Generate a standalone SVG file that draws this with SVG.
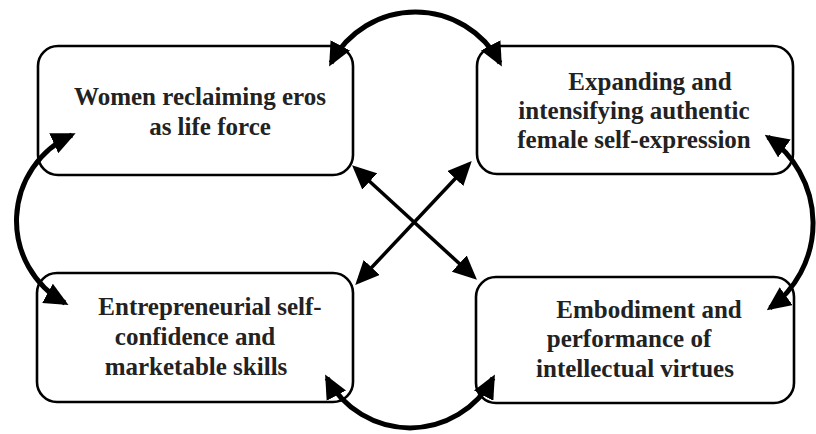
<svg xmlns="http://www.w3.org/2000/svg" width="816" height="434" viewBox="0 0 816 434">
<defs>
<style>
.box{fill:#fff;stroke:#000;stroke-width:2.6}
.lbl{font-family:'Liberation Serif','Times New Roman',Tinos,'DejaVu Serif',serif;font-weight:bold;font-size:25px;fill:#222;text-anchor:middle}
.arc{fill:none;stroke:#000;stroke-width:5}
.ln{fill:none;stroke:#000;stroke-width:3.5}
</style>
<marker id="ah" viewBox="0 0 24 22" refX="20" refY="11" markerWidth="24" markerHeight="22" markerUnits="userSpaceOnUse" orient="auto-start-reverse">
<path d="M0,0 L24,11 L0,22 z" fill="#000"/>
</marker>
</defs>
<g id="node-women">
<rect class="box" x="38" y="46" width="315" height="129" rx="20"/>
<text class="lbl" font-family="Liberation Serif, serif"><tspan x="200" y="105">Women reclaiming eros</tspan><tspan x="210" y="135">as life force</tspan></text>
</g>
<g id="node-expanding">
<rect class="box" x="477" y="46" width="316" height="128" rx="20"/>
<text class="lbl" font-family="Liberation Serif, serif"><tspan x="650" y="90">Expanding and</tspan><tspan x="634" y="119">intensifying authentic</tspan><tspan x="634" y="148">female self-expression</tspan></text>
</g>
<g id="node-entrepreneurial">
<rect class="box" x="37" y="273" width="316" height="129" rx="20"/>
<text class="lbl" font-family="Liberation Serif, serif"><tspan x="210" y="315">Entrepreneurial self-</tspan><tspan x="195" y="345">confidence and</tspan><tspan x="196" y="375">marketable skills</tspan></text>
</g>
<g id="node-embodiment">
<rect class="box" x="476" y="277" width="318" height="126" rx="20"/>
<text class="lbl" font-family="Liberation Serif, serif"><tspan x="649" y="318">Embodiment and</tspan><tspan x="629" y="347">performance of</tspan><tspan x="635" y="377">intellectual virtues</tspan></text>
</g>
<g id="connectors">
<path class="arc" d="M331,63 A95.5,95.5 0 0 1 500,63" marker-start="url(#ah)" marker-end="url(#ah)"/>
<path class="arc" d="M327,378 A94,94 0 0 0 493,378" marker-start="url(#ah)" marker-end="url(#ah)"/>
<path class="arc" d="M72,135 A94,94 0 0 0 65,303" marker-start="url(#ah)" marker-end="url(#ah)"/>
<path class="arc" d="M768,137 A105,105 0 0 1 770,308" marker-start="url(#ah)" marker-end="url(#ah)"/>
<line class="ln" x1="355" y1="168" x2="474" y2="277" marker-start="url(#ah)" marker-end="url(#ah)"/>
<line class="ln" x1="469" y1="164" x2="358" y2="282" marker-start="url(#ah)" marker-end="url(#ah)"/>
</g>
</svg>
